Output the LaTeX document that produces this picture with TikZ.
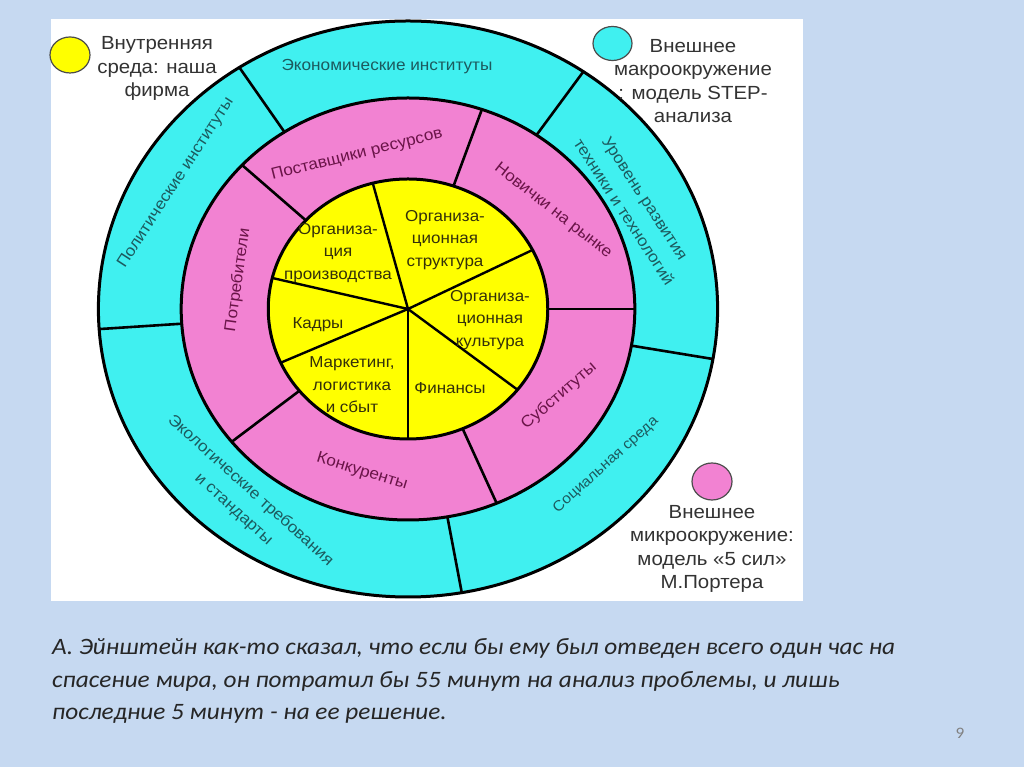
\documentclass[tikz,border=0pt]{standalone}
\usepackage{fontspec}
\setmainfont{Liberation Sans}
\newfontfamily\widesans[FakeStretch=1.075]{Liberation Sans}
\newfontfamily\calfont[FakeStretch=1.075]{Carlito}
\definecolor{bgblue}{HTML}{C6D9F1}
\definecolor{cyanring}{HTML}{40F0F0}
\definecolor{pinkring}{HTML}{F282D2}
\definecolor{yellowc}{HTML}{FFFF00}
\definecolor{cyantext}{HTML}{1C5A5E}
\definecolor{pinktext}{HTML}{6A1448}
\definecolor{yeltext}{HTML}{33300A}
\definecolor{legtext}{HTML}{333333}
\definecolor{quotetext}{HTML}{262626}
\tikzset{
  ring/.style={draw=black, line width=3pt},
  divider/.style={draw=black, line width=2.6pt},
  cyanlbl/.style={text=cyantext, font=\widesans\fontsize{16}{25}\selectfont, align=center, inner sep=0pt},
  pinklbl/.style={text=pinktext, font=\widesans\fontsize{16}{25}\selectfont, align=center, inner sep=0pt},
  yellbl/.style={text=yeltext, font=\widesans\fontsize{15.8}{22.5}\selectfont, align=center, inner sep=0pt},
  leglbl/.style={text=legtext, font=\widesans\fontsize{19}{23.3}\selectfont, align=center, inner sep=0pt},
  legdot/.style={draw=black!70, line width=1.2pt},
  quote/.style={text=quotetext, font=\calfont\itshape\fontsize{23.5}{32.5}\selectfont, anchor=base west, inner sep=0pt}
}
\begin{document}
\begin{tikzpicture}[x=1pt,y=1pt]
\useasboundingbox (0,0) rectangle (1024,767);
\fill[bgblue] (0,0) rectangle (1024,767);
\fill[white] (51,166) rectangle (803,748);
% rings
\begin{scope}[shift={(408,458)}, xscale=1.075]
  \filldraw[ring, fill=cyanring] (0,0) circle (288);
  \filldraw[ring, fill=pinkring] (0,0) circle (211);
  \filldraw[ring, fill=yellowc] (0,0) circle (130);
  \coordinate (c0) at (0,0);
  % outer ring dividers
  \foreach \a in {123,55.5,-10,-80,184} {
    \draw[divider] (\a:211) -- (\a:288);
  }
  % pink ring dividers
  \foreach \a in {137,71,0,-67,219} {
    \draw[divider] (\a:130) -- (\a:211);
  }
  % pie lines
  \foreach \a in {104.6,27,-38.4,-90,204.4,166.2} {
    \draw[divider, line width=2.4pt] (c0) -- (\a:130);
  }
\end{scope}
% outer ring labels
\node[cyanlbl] (econ) at (387,700) {Экономические институты};
\node[cyanlbl, rotate=57] (polit) at (176,584) {Политические институты};
\node[cyanlbl, rotate=-57] (tech) at (634.5,562) {Уровень развития\\техники и технологий};
\node[cyanlbl, rotate=42, font=\widesans\fontsize{14.5}{20}\selectfont] (soc) at (606,302) {Социальная среда};
\node[cyanlbl, rotate=-42] (eco) at (242,267) {Экологические требования\\и стандарты};
% pink ring labels
\node[pinklbl, rotate=14] (post) at (357,612) {Поставщики ресурсов};
\node[pinklbl, rotate=-38] (nov) at (553,556) {Новички на рынке};
\node[pinklbl, rotate=82] (potr) at (238,487) {Потребители};
\node[pinklbl, rotate=-17] (konk) at (362,295) {Конкуренты};
\node[pinklbl, rotate=41] (subst) at (559,371) {Субституты};
% pie labels
\node[yellbl] (orgpr) at (338,514) {Организа-\\ция\\производства};
\node[yellbl] (orgstr) at (445,527) {Организа-\\ционная\\структура};
\node[yellbl] (orgkul) at (490,447) {Организа-\\ционная\\культура};
\node[yellbl] (kadry) at (318,442) {Кадры};
\node[yellbl] (mark) at (352,382) {Маркетинг,\\логистика\\и сбыт};
\node[yellbl] (fin) at (450,379) {Финансы};
% legend
\filldraw[legdot, fill=yellowc] (70,712) ellipse (20 and 18);
\node[leglbl] (leg1) at (157,698.5) {Внутренняя\\среда: наша\\фирма};
\filldraw[legdot, fill=cyanring] (612.5,723.5) ellipse (19.5 and 17);
\node[leglbl] (leg2) at (693,686) {Внешнее\\макроокружение\\: модель STEP-\\анализа};
\filldraw[legdot, fill=pinkring] (712,285.5) ellipse (20 and 18.5);
\node[leglbl] (leg3) at (712,218) {Внешнее\\микроокружение:\\модель «5 сил»\\М.Портера};
% quote
\node[quote] (q1) at (52,112) {А. Эйнштейн как-то сказал, что если бы ему был отведен всего один час на};
\node[quote] (q2) at (52,79.5) {спасение мира, он потратил бы 55 минут на анализ проблемы, и лишь};
\node[quote] (q3) at (52,47) {последние 5 минут - на ее решение.};
\node[text=black!50, font=\calfont\fontsize{16}{18}\selectfont] (pg) at (960,34) {9};
\end{tikzpicture}
\end{document}
